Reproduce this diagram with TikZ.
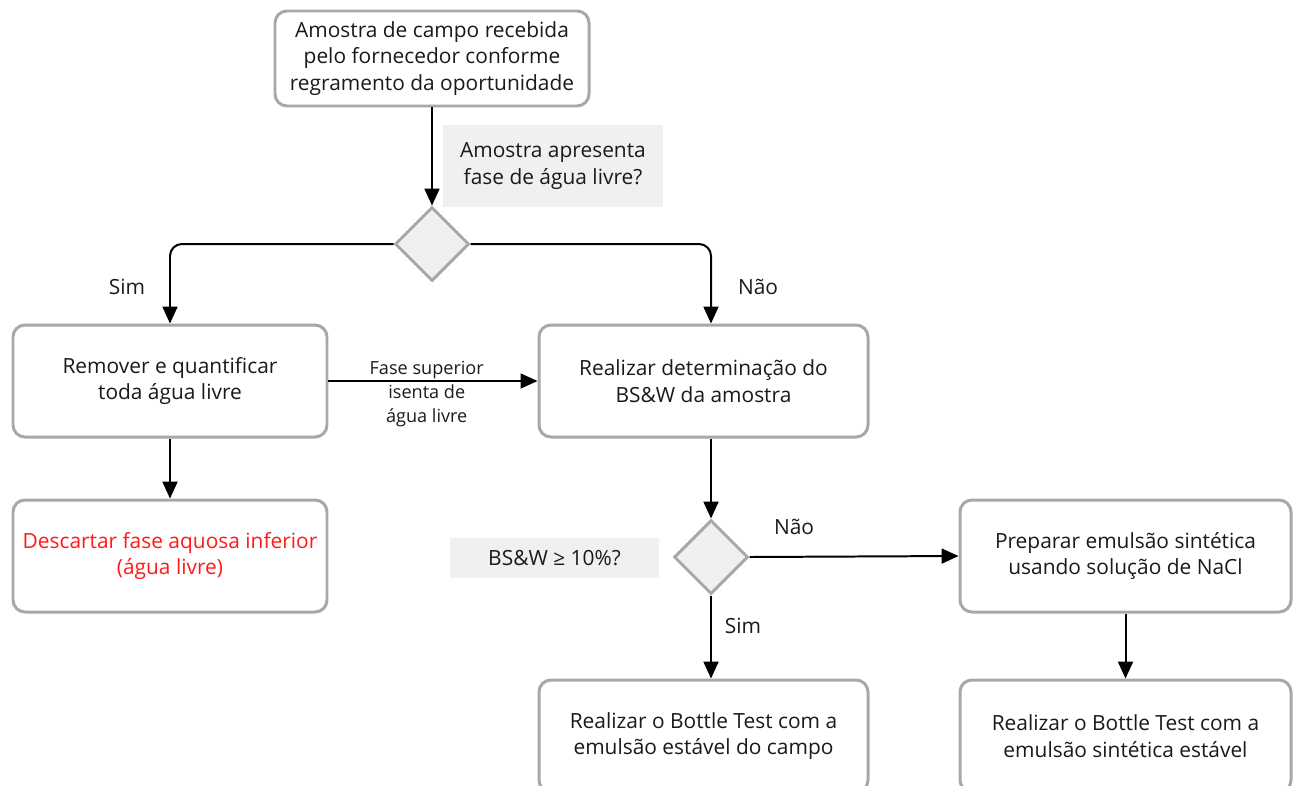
\documentclass[tikz,border=0pt]{standalone}
\usepackage{fontspec}
\setmainfont{Open Sans}
\usetikzlibrary{arrows.meta,shapes.geometric}
\newdimen\px \px=0.02cm
\definecolor{boxgray}{HTML}{A8A8A8}
\definecolor{fillgray}{HTML}{F0F0F0}
\definecolor{txt}{HTML}{1A1A1A}
\definecolor{redtxt}{HTML}{FF1A1A}
\tikzset{
  procbox/.style={draw=boxgray, line width=1.7pt, rounded corners=6.8pt, fill=white,
    align=center, text=txt, font=\fontsize{11.9}{15.3}\selectfont, inner sep=0pt},
  decision/.style={diamond, draw=boxgray, line width=1.7pt, fill=fillgray,
    minimum width=74\px, minimum height=74\px, inner sep=0pt},
  qlabel/.style={fill=fillgray, align=center, text=txt, font=\fontsize{11.9}{15.3}\selectfont, inner sep=0pt},
  edgelbl/.style={text=txt, font=\fontsize{11.9}{15.3}\selectfont, inner sep=0pt},
  smalllbl/.style={text=txt, align=center, font=\fontsize{10.3}{13.6}\selectfont, inner sep=0pt},
  flow/.style={draw=black, line width=1.13pt, -{Triangle[length=9.6pt, width=8.5pt]}},
  thinflow/.style={draw=black, line width=0.75pt, -{Triangle[length=9.6pt, width=8.5pt]}},
}
\begin{document}
\begin{tikzpicture}[x=0.02cm, y=-0.02cm]
\useasboundingbox (0,0) rectangle (1297,785);
\clip (0,0) rectangle (1297,785);

\node[procbox, minimum width=314\px, minimum height=95\px] (top) at (432,58.5)
  {Amostra de campo recebida\\pelo fornecedor conforme\\regramento da oportunidade};
\node[qlabel, minimum width=220\px, minimum height=82\px] (q1) at (553,166)
  {Amostra apresenta\\fase de água livre?};
\node[decision] (d1) at (432,244) {};

\node[procbox, minimum width=314\px, minimum height=112\px] (rem) at (170,381)
  {Remover e quantificar\\toda água livre};
\node[procbox, minimum width=329\px, minimum height=112\px] (bsw) at (703.5,381)
  {Realizar determinação do\\BS\&W da amostra};
\node[procbox, minimum width=314\px, minimum height=112\px, text=redtxt] (desc) at (170,556)
  {Descartar fase aquosa inferior\\(água livre)};

\node[decision] (d2) at (711,557) {};
\node[qlabel, minimum width=209\px, minimum height=40\px] (q2) at (554.5,558)
  {BS\&W ≥ 10\%?};
\node[procbox, minimum width=331\px, minimum height=112\px] (prep) at (1125.5,556)
  {Preparar emulsão sintética\\usando solução de NaCl};

\node[procbox, minimum width=329\px, minimum height=112\px] (btc) at (703.5,736)
  {Realizar o Bottle Test com a\\emulsão estável do campo};
\node[procbox, minimum width=331\px, minimum height=112\px] (bts) at (1125.5,736)
  {Realizar o Bottle Test com a\\emulsão sintética estável};

% connectors
\draw[flow] (top.south -| d1) -- (d1.north);
\draw[flow, rounded corners=6.8pt] (d1.west) -| (rem.north);
\draw[flow, rounded corners=6.8pt] (d1.east) -| (d2 |- bsw.north);
\draw[thinflow] (rem.east) -- node[smalllbl, pos=0.47, yshift=-13\px] (fs) {Fase superior\\isenta de\\água livre} (bsw.west);
\draw[flow] (rem.south) -- (desc.north);
\draw[flow] (d2 |- bsw.south) -- (d2.north);
\draw[flow] (d2.east) -- (prep.west);
\draw[flow] (d2.south) -- (d2 |- btc.north);
\draw[flow] (prep.south) -- (bts.north);

% edge labels
\node[edgelbl] (sim1) at (127,287) {Sim};
\node[edgelbl] (nao1) at (758,287) {Não};
\node[edgelbl] (nao2) at (794,527) {Não};
\node[edgelbl] (sim2) at (743,626) {Sim};
\end{tikzpicture}
\end{document}
